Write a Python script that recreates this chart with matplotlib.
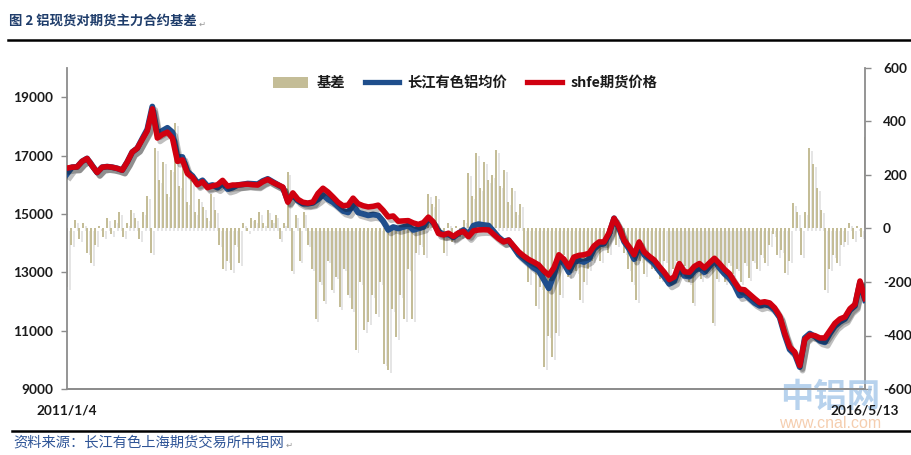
import matplotlib
matplotlib.use("Agg")
import matplotlib.pyplot as plt
import matplotlib.patheffects as pe
from matplotlib.patches import Patch
from matplotlib.lines import Line2D
import pandas as pd

# ---------------- data ----------------
start_label = "2011/1/4"
end_label = "2016/5/13"

# SHFE futures price (sampled at regular intervals)
shfe_price = [
    16570, 16600, 16610, 16800, 16900, 16650, 16420, 16600, 16620, 16600,
    16560, 16500, 16780, 17120, 17250, 17550, 17850, 18600, 17600, 17720,
    17800, 17600, 16800, 16850, 16380, 16250, 16000, 16100, 15900, 15960,
    16000, 16150, 15950, 15990, 15990, 16010, 16020, 16000, 15990, 16100,
    16180, 16080, 16000, 15920, 15400, 15720, 15500, 15400, 15370, 15410,
    15700, 15880, 15750, 15580, 15400, 15280, 15300, 15540, 15350, 15280,
    15240, 15260, 15300, 15120, 14900, 14930, 14750, 14760, 14770, 14690,
    14640, 14700, 14890, 14720, 14330, 14280, 14340, 14230, 14350, 14400,
    14220, 14420, 14450, 14460, 14450, 14300, 14150, 14040, 14100, 13900,
    13700, 13560, 13440, 13350, 13250, 13050, 12900, 13150, 13600, 13450,
    13180, 13520, 13580, 13600, 13650, 13900, 14040, 14040, 14350, 14850,
    14550, 14100, 13870, 13600, 14040, 13700, 13550, 13420, 13200, 13000,
    12750, 12840, 13300, 13020, 13000, 13200, 13300, 13150, 13320, 13480,
    13300, 13100, 12950, 12670, 12420, 12400, 12250, 12100, 11960, 11990,
    11950, 11780, 11500, 10920, 10440, 10270, 9800, 10700, 10850, 10830,
    10750, 10750, 11000, 11250, 11400, 11470, 11750, 11900, 12700, 12100,
]

# Changjiang spot average price
cj_price = [
    16370, 16600, 16610, 16800, 16900, 16650, 16420, 16600, 16620, 16600,
    16560, 16500, 16780, 17120, 17250, 17580, 17900, 18680, 17750, 17850,
    17950, 17800, 16950, 16950, 16450, 16300, 16050, 16150, 15950, 15990,
    15900, 16050, 15850, 15900, 15990, 16010, 16040, 16030, 16020, 16130,
    16200, 16100, 16000, 15900, 15450, 15650, 15450, 15350, 15350, 15380,
    15500, 15650, 15500, 15400, 15250, 15100, 15050, 15300, 15050, 15000,
    14950, 14980, 14950, 14750, 14450, 14550, 14500, 14550, 14600, 14450,
    14500, 14550, 14850, 14700, 14400, 14300, 14300, 14200, 14330, 14450,
    14300, 14600, 14650, 14620, 14600, 14400, 14200, 14060, 14100, 13850,
    13600, 13450, 13300, 13150, 13050, 12750, 12450, 12900, 13450, 13300,
    13000, 13350, 13400, 13350, 13450, 13800, 13950, 13980, 14300, 14850,
    14500, 14050, 13800, 13450, 13900, 13600, 13450, 13300, 13050, 12850,
    12600, 12700, 13150, 12880, 12850, 13050, 13150, 13000, 13200, 13400,
    13150, 12950, 12800, 12550, 12200, 12250, 12100, 11950, 11850, 11900,
    11850, 11700, 11450, 10850, 10350, 10200, 9750, 10750, 10900, 10800,
    10650, 10600, 10900, 11150, 11300, 11400, 11700, 11850, 12650, 12050,
]

# basis (spot - futures)
basis = [
    -220, -60, 30, -40, 20, -90, -130, -60, 10, -30,
    40, -20, 30, 60, -30, 20, 70, 40, -40, 60,
    120, -90, 300, 180, 250, 130, 220, 395, 160, 270,
    100, 180, 60, 110, 80, 40, 130, 70, -60, -150,
    -120, -155, -60, -130, 20, -10, 40, 30, 60, 20,
    70, 30, 50, -40, 20, 210, -160, 50, -120, 60,
    -60, -150, -340, -200, -270, -120, -230, -180, -295, -150,
    -250, -300, -455, -200, -380, -350, -250, -320, -200, -505,
    -530, -300, -405, -250, -340, -150, -340, -90, -60, -100,
    130, 90, 120, -20, -92, 20, -50, 10, -30, 30,
    207, 120, 282, 150, 250, 180, 200, 293, 160, 220,
    100, 150, 60, 90, -100, -200, -150, -290, -220, -517,
    -400, -480, -390, -250, -100, -180, -120, -160, -267, -200,
    -150, -120, -80, -120, -60, -90, -20, -60, -40, -90,
    -150, -200, -267, -120, -170, -100, -150, -160, -190, -120,
    -190, -150, -120, -180, -140, -200, -280, -150, -190, -170,
    -120, -355, -190, -150, -200, -130, -170, -150, -200, -130,
    -185, -120, -150, -100, -130, -60, -20, -100, -80, -165,
    -120, 95, 60, -100, 60, 300, 240, 150, 70, -230,
    -150, -100, -130, -60, -50, 20, -40, 10, -30, 343,
]

left_ticks = [9000, 11000, 13000, 15000, 17000, 19000]
right_ticks = [-600, -400, -200, 0, 200, 400, 600]

legend_labels = ["基差", "长江有色铝均价", "shfe期货价格"]
title_text = "图 2 铝现货对期货主力合约基差"
source_text = "资料来源：长江有色上海期货交易所中铝网"

# ---------------- styling ----------------
C_BAR = "#c4bd97"
C_BLUE = "#1f4e8c"
C_RED = "#d00010"
C_SPINE = "#8c8c8c"
CJK = ["Noto Sans CJK SC", "DejaVu Sans"]
NUM = ["Lato", "DejaVu Sans"]

t0 = pd.Timestamp("2011-01-04")
t1 = pd.Timestamp("2016-05-13")
price_dates = pd.date_range(t0, t1, periods=len(shfe_price))
basis_dates = pd.date_range(t0, t1, periods=len(basis))
bar_w = (t1 - t0).days / len(basis) * 0.5

fig = plt.figure(figsize=(9.11, 4.55), dpi=100)
ax = fig.add_axes([67 / 911, 1 - 389 / 455, 798 / 911, 321 / 455])
ax2 = ax.twinx()
ax.set_zorder(ax2.get_zorder() + 1)
ax.patch.set_visible(False)

# bars on right axis
bars = ax2.bar(basis_dates, basis, width=bar_w, color=C_BAR, linewidth=0)
for b in bars:
    b.set_path_effects([pe.SimplePatchShadow(offset=(2, -2), shadow_rgbFace="#000000", alpha=0.1), pe.Normal()])
ax2.set_ylim(-600, 600)
ax2.set_yticks(right_ticks)
ax2.set_yticklabels([str(v) for v in right_ticks])

# lines on left axis
shadow = [pe.SimpleLineShadow(offset=(2, -2.5), shadow_color="#000000", alpha=0.25), pe.Normal()]
ax.plot(price_dates, cj_price, color=C_BLUE, lw=4.2, solid_joinstyle="round", path_effects=shadow, zorder=3)
ax.plot(price_dates, shfe_price, color=C_RED, lw=4.0, solid_joinstyle="round", path_effects=shadow, zorder=4)
ax.set_ylim(9000, 20000)
ax.set_yticks(left_ticks)
ax.set_yticklabels([str(v) for v in left_ticks])
ax.set_xlim(t0, t1)
ax.set_xticks([t0, t1])
ax.set_xticklabels([start_label, end_label])

for a in (ax, ax2):
    for s in a.spines.values():
        s.set_color(C_SPINE)
        s.set_linewidth(1.3)
    a.spines["top"].set_visible(False)
ax.spines["right"].set_visible(False)
ax2.spines["left"].set_visible(False)

ax.tick_params(axis="y", length=4, width=1, color=C_SPINE, pad=6)
ax2.tick_params(axis="y", length=4, width=1, color=C_SPINE, pad=9)
ax.tick_params(axis="x", length=0, pad=11)
for lab in ax.get_yticklabels() + ax2.get_yticklabels() + ax.get_xticklabels():
    lab.set_fontfamily(NUM)
    lab.set_fontweight("bold")
    lab.set_fontsize(9.8)
    lab.set_color("#1a1a1a")

# legend
handles = [
    Patch(facecolor=C_BAR, edgecolor="none"),
    Line2D([], [], color=C_BLUE, lw=3.8),
    Line2D([], [], color=C_RED, lw=3.8),
]
leg = ax.legend(handles, legend_labels, loc="upper center", bbox_to_anchor=(0.499, 1.015),
                ncol=3, frameon=False, handlelength=2.4, handleheight=0.8,
                handletextpad=0.6, columnspacing=1.4,
                prop={"family": CJK, "weight": "bold", "size": 10.3})
for t in leg.get_texts():
    t.set_color("#1a1a1a")

# title & separator lines
title = fig.text(9 / 911, 1 - 21 / 455, title_text, ha="left", va="center", fontsize=9.6,
                 fontweight="bold", color="#1f3d6b", family=CJK)
fig.add_artist(Line2D([8 / 911, 1.0], [1 - 40 / 455] * 2, color="black", lw=1.8, transform=fig.transFigure))
fig.add_artist(Line2D([12 / 911, 1.0], [1 - 431 / 455] * 2, color="black", lw=1.8, transform=fig.transFigure))
source = fig.text(13 / 911, 1 - 443 / 455, source_text, ha="left", va="center", fontsize=10.3,
                  style="italic", color="#2f5597", family=CJK)

fig.canvas.draw()
r = fig.canvas.get_renderer()
for txt, dy in ((title, 3), (source, 2)):
    bb = txt.get_window_extent(r)
    fig.text((bb.x1 + 2) / 911, (bb.y0 + bb.y1) / 2 / 455 - dy / 455, "↵", ha="left", va="center",
             fontsize=6, color="#999999", family=["DejaVu Sans"])

# watermark
fig.text(830 / 911, 1 - 398 / 455, "中铝网", ha="center", va="center", fontsize=24,
         fontweight="bold", color="#9fc3e7", alpha=0.75, family=CJK, zorder=0.5)
fig.text(830 / 911, 1 - 424 / 455, "www.cnal.com", ha="center", va="center", fontsize=11.5,
         color="#f3c29c", alpha=0.8, family=["Liberation Sans", "DejaVu Sans"], zorder=0.5)

fig.savefig("out.png", dpi=100)
